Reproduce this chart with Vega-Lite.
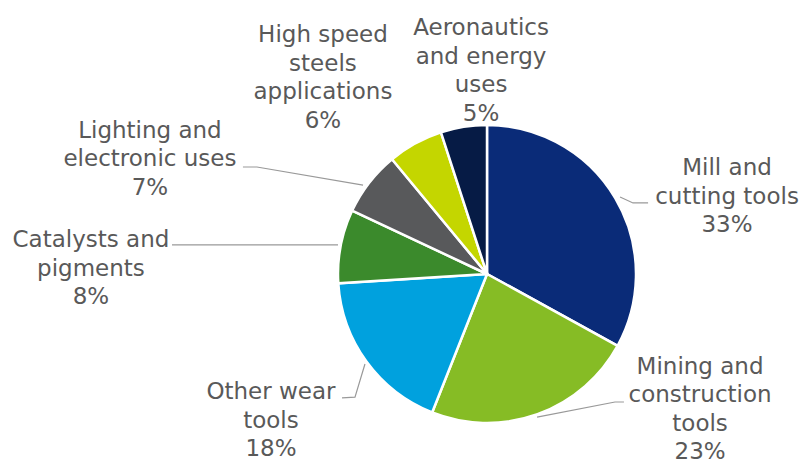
{
  "$schema": "https://vega.github.io/schema/vega-lite/v6.json",
  "width": 636,
  "height": 380,
  "padding": {"left": 169, "top": 84, "right": 0, "bottom": 0},
  "autosize": {"type": "none"},
  "background": "white",
  "config": {"view": {"stroke": null}, "font": "DejaVu Sans"},
  "datasets": {
    "uses": [
      {"category": "Mill and cutting tools", "name": "Mill and\ncutting tools", "share": 33},
      {"category": "Mining and construction tools", "name": "Mining and\nconstruction\ntools", "share": 23},
      {"category": "Other wear tools", "name": "Other wear\ntools", "share": 18},
      {"category": "Catalysts and pigments", "name": "Catalysts and\npigments", "share": 8},
      {"category": "Lighting and electronic uses", "name": "Lighting and\nelectronic uses", "share": 7},
      {"category": "High speed steels applications", "name": "High speed\nsteels\napplications", "share": 6},
      {"category": "Aeronautics and energy uses", "name": "Aeronautics\nand energy\nuses", "share": 5}
    ],
    "callouts": [
      {"category": "Mill and cutting tools", "lx": 1.611, "ly": 0.711},
      {"category": "Mining and construction tools", "lx": 1.43, "ly": -0.624},
      {"category": "Other wear tools", "lx": -1.45, "ly": -0.792},
      {"category": "Catalysts and pigments", "lx": -2.658, "ly": 0.228},
      {"category": "Lighting and electronic uses", "lx": -2.262, "ly": 0.96},
      {"category": "High speed steels applications", "lx": -1.101, "ly": 1.604},
      {"category": "Aeronautics and energy uses", "lx": -0.04, "ly": 1.651}
    ],
    "leaders": [
      {"category": "Mill and cutting tools", "seq": 1, "px": 0.893, "py": 0.517},
      {"category": "Mill and cutting tools", "seq": 2, "px": 0.98, "py": 0.477},
      {"category": "Mill and cutting tools", "seq": 3, "px": 1.081, "py": 0.477},
      {"category": "Mining and construction tools", "seq": 1, "px": 0.336, "py": -0.96},
      {"category": "Mining and construction tools", "seq": 2, "px": 0.859, "py": -0.859},
      {"category": "Mining and construction tools", "seq": 3, "px": 0.919, "py": -0.859},
      {"category": "Other wear tools", "seq": 1, "px": -0.819, "py": -0.604},
      {"category": "Other wear tools", "seq": 2, "px": -0.886, "py": -0.826},
      {"category": "Other wear tools", "seq": 3, "px": -0.973, "py": -0.832},
      {"category": "Catalysts and pigments", "seq": 1, "px": -1.0, "py": 0.195},
      {"category": "Catalysts and pigments", "seq": 2, "px": -2.114, "py": 0.195},
      {"category": "Lighting and electronic uses", "seq": 1, "px": -0.832, "py": 0.597},
      {"category": "Lighting and electronic uses", "seq": 2, "px": -1.544, "py": 0.718},
      {"category": "Lighting and electronic uses", "seq": 3, "px": -1.638, "py": 0.718}
    ]
  },
  "layer": [
    {
      "data": {"name": "uses"},
      "mark": {"type": "arc", "outerRadius": 149, "stroke": "white", "strokeWidth": 2.5},
      "encoding": {
        "theta": {"field": "share", "type": "quantitative", "stack": true},
        "order": {"field": "share", "type": "quantitative", "sort": "descending"},
        "color": {
          "field": "category",
          "type": "nominal",
          "legend": null,
          "scale": {
            "domain": [
              "Mill and cutting tools",
              "Mining and construction tools",
              "Other wear tools",
              "Catalysts and pigments",
              "Lighting and electronic uses",
              "High speed steels applications",
              "Aeronautics and energy uses"
            ],
            "range": ["#0a2b78", "#86bc25", "#00a1de", "#3b8a2c", "#58595b", "#c4d600", "#061b45"]
          }
        }
      }
    },
    {
      "data": {"name": "leaders"},
      "mark": {"type": "line", "color": "#999999", "strokeWidth": 1.2},
      "encoding": {
        "x": {"field": "px", "type": "quantitative", "axis": null, "scale": {"domain": [-2.1342, 2.1342], "zero": false, "nice": false}},
        "y": {"field": "py", "type": "quantitative", "axis": null, "scale": {"domain": [-1.2752, 1.2752], "zero": false, "nice": false}},
        "detail": {"field": "category"},
        "order": {"field": "seq", "type": "quantitative"}
      }
    },
    {
      "data": {"name": "uses"},
      "transform": [
        {"lookup": "category", "from": {"data": {"name": "callouts"}, "key": "category", "fields": ["lx", "ly"]}},
        {"calculate": "datum.name + '\\n' + datum.share + '%'", "as": "label"}
      ],
      "mark": {"type": "text", "fontSize": 23, "color": "#595959", "align": "center", "baseline": "middle", "lineBreak": "\n", "lineHeight": 28.5},
      "encoding": {
        "x": {"field": "lx", "type": "quantitative"},
        "y": {"field": "ly", "type": "quantitative"},
        "text": {"field": "label"}
      }
    }
  ]
}
